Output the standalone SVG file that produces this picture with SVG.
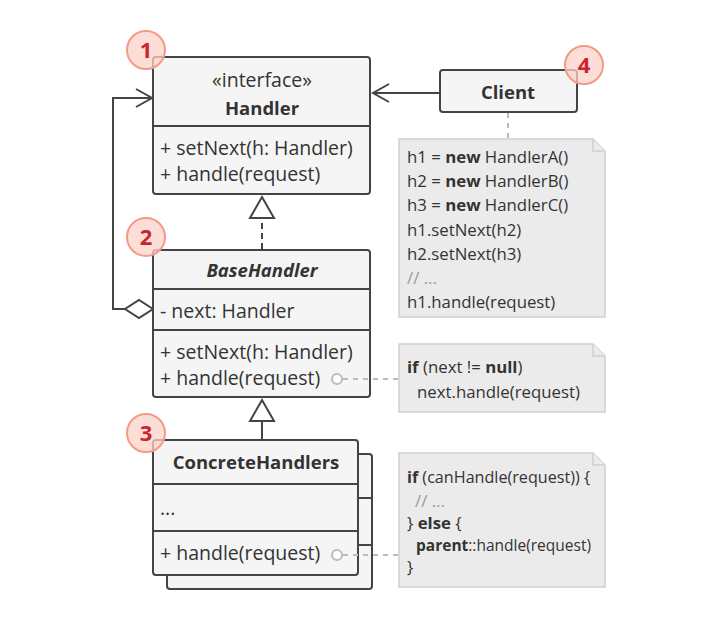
<svg xmlns="http://www.w3.org/2000/svg" width="719" height="620" viewBox="0 0 719 620">
<defs>
<style>
.box{fill:#f5f5f5;stroke:#444;stroke-width:2}
.div{stroke:#444;stroke-width:2}
.note{fill:#ebebeb;stroke:#cfcfcf;stroke-width:1.5}
.fold{fill:#ebebeb;stroke:#cfcfcf;stroke-width:1.5}
.t{font-family:"Open Sans","Noto Sans",sans-serif;font-size:19.5px;fill:#333}
.tb{font-family:"Open Sans","Noto Sans",sans-serif;font-size:18.5px;font-weight:bold;fill:#333;text-anchor:middle}
.n{font-family:"Open Sans","Noto Sans",sans-serif;font-size:16.8px;fill:#333}
.b{font-weight:bold}
.c{text-anchor:middle}
.ln{fill:none;stroke:#444;stroke-width:2}
.dash{fill:none;stroke:#444;stroke-width:2;stroke-dasharray:6,4}
.gd{fill:none;stroke:#bbb;stroke-width:2;stroke-dasharray:5,5}
.dot{fill:#fff;stroke:#bbb;stroke-width:2}
.badge circle{fill:#fcd3ca;fill-opacity:0.75;stroke:#f49a88;stroke-width:2}
.badge text{font-family:"Open Sans","Noto Sans",sans-serif;font-size:22px;font-weight:bold;fill:#c9252e;text-anchor:middle}
</style>
</defs>
<rect width="719" height="620" fill="#ffffff"/>

<g id="connectors">
<line class="ln" x1="440" y1="93" x2="373" y2="93"/>
<polyline class="ln" points="389,84 373,93 389,102"/>
<polyline class="ln" points="125,309 113,309 113,98 151,98"/>
<polyline class="ln" points="136,89 152,98 136,107"/>
<polygon points="153,309 139,300 125,309 139,318" fill="#fff" stroke="#444" stroke-width="2"/>
<line class="dash" x1="262" y1="249" x2="262" y2="218"/>
<polygon points="262,197 250,218 274,218" fill="#fff" stroke="#444" stroke-width="2"/>
<line class="ln" x1="262" y1="439" x2="262" y2="421"/>
<polygon points="262,400 250,421 274,421" fill="#fff" stroke="#444" stroke-width="2"/>
<line class="gd" x1="508" y1="113" x2="508" y2="139"/>
</g>

<g id="handler">
<rect class="box" x="153" y="57" width="217" height="137" rx="3"/>
<line class="div" x1="153" y1="126" x2="370" y2="126"/>
<text class="t c" x="262" y="87">«interface»</text>
<text class="tb" x="262" y="115">Handler</text>
<text class="t" x="160" y="155">+ setNext(h: Handler)</text>
<text class="t" x="160" y="181">+ handle(request)</text>
</g>

<g id="basehandler">
<rect class="box" x="153" y="250" width="217" height="147" rx="3"/>
<line class="div" x1="153" y1="289" x2="370" y2="289"/>
<line class="div" x1="153" y1="330" x2="370" y2="330"/>
<text class="tb" x="262" y="277" font-style="italic">BaseHandler</text>
<text class="t" x="160" y="318">- next: Handler</text>
<text class="t" x="160" y="359">+ setNext(h: Handler)</text>
<text class="t" x="160" y="385">+ handle(request)</text>
</g>

<g id="concretehandlers">
<rect class="box" x="167" y="454" width="205" height="135" rx="3"/>
<line class="div" x1="167" y1="498" x2="372" y2="498"/>
<line class="div" x1="167" y1="545" x2="372" y2="545"/>
<rect class="box" x="153" y="440" width="205" height="135" rx="3"/>
<line class="div" x1="153" y1="484" x2="358" y2="484"/>
<line class="div" x1="153" y1="531" x2="358" y2="531"/>
<text class="tb" x="256" y="469">ConcreteHandlers</text>
<text class="t" x="160" y="515">...</text>
<text class="t" x="160" y="560">+ handle(request)</text>
</g>

<g id="client">
<rect class="box" x="440" y="70" width="137" height="42" rx="3"/>
<text class="tb" x="508" y="99">Client</text>
</g>

<g id="note-links">
<line class="gd" x1="343" y1="379" x2="399" y2="379"/>
<circle class="dot" cx="337" cy="379" r="5"/>
<line class="gd" x1="343" y1="555" x2="399" y2="555"/>
<circle class="dot" cx="337" cy="555" r="5"/>
</g>

<g id="note-client">
<path class="note" d="M399,139 H593 L605,151 V317 H399 Z"/>
<path class="fold" d="M593,139 V151 H605"/>
<text class="n" x="407" y="163">h1 = <tspan class="b">new</tspan> HandlerA()</text>
<text class="n" x="407" y="187">h2 = <tspan class="b">new</tspan> HandlerB()</text>
<text class="n" x="407" y="211">h3 = <tspan class="b">new</tspan> HandlerC()</text>
<text class="n" x="407" y="236">h1.setNext(h2)</text>
<text class="n" x="407" y="260">h2.setNext(h3)</text>
<text class="n" x="407" y="284" style="fill:#999">// ...</text>
<text class="n" x="407" y="308">h1.handle(request)</text>
</g>

<g id="note-base">
<path class="note" d="M399,344 H593 L605,356 V412 H399 Z"/>
<path class="fold" d="M593,344 V356 H605"/>
<text class="n" x="407" y="373"><tspan class="b">if</tspan> (next != <tspan class="b">null</tspan>)</text>
<text class="n" x="417" y="398">next.handle(request)</text>
</g>

<g id="note-concrete">
<path class="note" d="M399,453 H593 L605,465 V587 H399 Z"/>
<path class="fold" d="M593,453 V465 H605"/>
<text class="n" x="407" y="483" textLength="183" lengthAdjust="spacingAndGlyphs"><tspan class="b">if</tspan> (canHandle(request)) {</text>
<text class="n" x="415" y="507" style="fill:#999">// ...</text>
<text class="n" x="407" y="529">} <tspan class="b">else</tspan> {</text>
<text class="n" x="416" y="551" textLength="175" lengthAdjust="spacingAndGlyphs"><tspan class="b">parent</tspan>::handle(request)</text>
<text class="n" x="407" y="573">}</text>
</g>

<g id="badge-1" class="badge"><circle cx="146" cy="50" r="19"/><text x="146" y="58">1</text></g>
<g id="badge-2" class="badge"><circle cx="146" cy="237" r="19"/><text x="146" y="245">2</text></g>
<g id="badge-3" class="badge"><circle cx="146" cy="433" r="19"/><text x="146" y="441">3</text></g>
<g id="badge-4" class="badge"><circle cx="584" cy="65" r="19"/><text x="584" y="73">4</text></g>
</svg>
